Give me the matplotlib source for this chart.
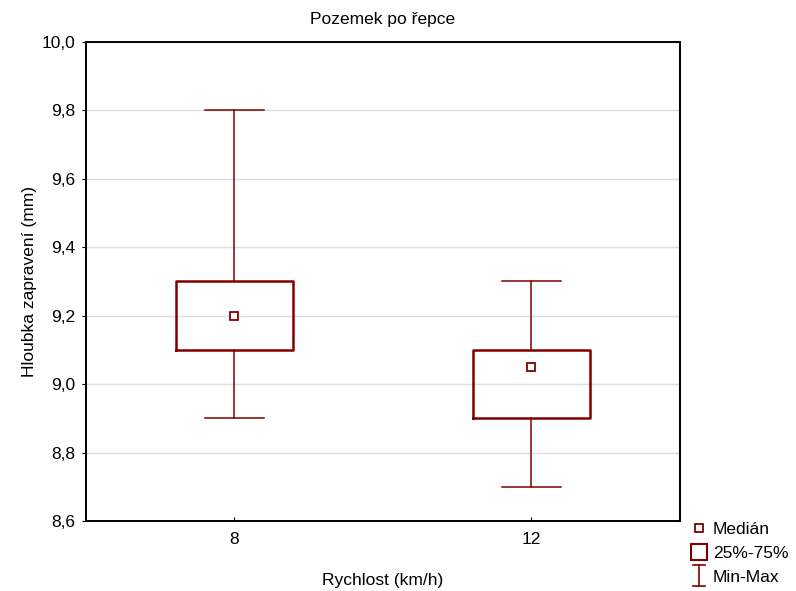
import numpy as np
import matplotlib
matplotlib.use('Agg')
import matplotlib.pyplot as plt
from matplotlib.lines import Line2D
from matplotlib.legend_handler import HandlerBase
from matplotlib.ticker import FuncFormatter, MultipleLocator

plt.rcParams['font.family'] = ['Liberation Sans', 'DejaVu Sans']

# data
categories = ['8', '12']
mins = [8.9, 8.7]
q1s = [9.1, 8.9]
medians = [9.2, 9.05]
q3s = [9.3, 9.1]
maxs = [9.8, 9.3]

RED = '#800000'
FS = 12.5


class MinMaxHandler(HandlerBase):
    # draws an "I" shaped whisker symbol in the legend
    def create_artists(self, legend, orig_handle, xdescent, ydescent,
                       width, height, fontsize, trans):
        cx = width / 2 - xdescent
        y0 = -ydescent - 0.35 * height
        y1 = -ydescent + 1.35 * height
        w = 0.38 * width
        kw = dict(color=RED, lw=1.2, transform=trans)
        return [Line2D([cx, cx], [y0, y1], **kw),
                Line2D([cx - w, cx + w], [y0, y0], **kw),
                Line2D([cx - w, cx + w], [y1, y1], **kw)]


fig = plt.figure(figsize=(7.96, 5.91), dpi=100, facecolor='white')
ax = fig.add_axes([86 / 796, 70 / 591, 594 / 796, 479 / 591])

stats = [dict(med=m, q1=a, q3=b, whislo=lo, whishi=hi, fliers=[])
         for m, a, b, lo, hi in zip(medians, q1s, q3s, mins, maxs)]
pos = np.arange(len(categories))
ax.bxp(stats, positions=pos, widths=0.395, capwidths=0.2, showfliers=False,
       boxprops=dict(color=RED, linewidth=1.8),
       whiskerprops=dict(color=RED, linewidth=1.1),
       capprops=dict(color=RED, linewidth=1.1),
       medianprops=dict(linestyle='none'))
ax.plot(pos, medians, 's', ms=5.5, mfc='white', mec=RED, mew=1.3, linestyle='none', zorder=5)

ax.set_xlim(-0.5, 1.5)
ax.set_ylim(8.6, 10.0)
ax.set_xticks(pos)
ax.set_xticklabels(categories)
ax.yaxis.set_major_locator(MultipleLocator(0.2))
ax.yaxis.set_major_formatter(FuncFormatter(lambda v, p: f'{v:.1f}'.replace('.', ',')))
ax.grid(axis='y', color='#dddddd', linewidth=1)
ax.set_axisbelow(True)
for s in ax.spines.values():
    s.set_linewidth(1.4)
    s.set_color('black')
ax.tick_params(axis='y', direction='out', length=3, labelsize=FS, pad=5)
ax.tick_params(axis='x', direction='in', length=3, labelsize=FS, pad=8)

# inward ticks on the right side
sec = ax.secondary_yaxis('right')
sec.yaxis.set_major_locator(MultipleLocator(0.2))
sec.tick_params(direction='in', length=3, labelright=False)
sec.spines['right'].set_linewidth(1.4)

ax.set_title('Pozemek po řepce', fontsize=FS, pad=13)
ax.set_xlabel('Rychlost (km/h)', fontsize=FS, labelpad=19)
ax.set_ylabel('Hloubka zapravení (mm)', fontsize=FS, labelpad=3)

# legend
handles = [
    Line2D([], [], marker='s', ms=5.5, mfc='white', mec=RED, mew=1.3, linestyle='none'),
    Line2D([], [], marker='s', ms=12, mfc='white', mec=RED, mew=1.5, linestyle='none'),
    Line2D([], []),
]
fig.legend(handles, ['Medián', '25%-75%', 'Min-Max'], loc='upper left',
           bbox_to_anchor=(684 / 796, 70 / 591 + 0.01), frameon=False, fontsize=FS,
           handlelength=0.9, handletextpad=0.35, labelspacing=0.5, borderaxespad=0,
           handler_map={handles[2]: MinMaxHandler()})

fig.savefig('out.png', dpi=100, facecolor='white')
